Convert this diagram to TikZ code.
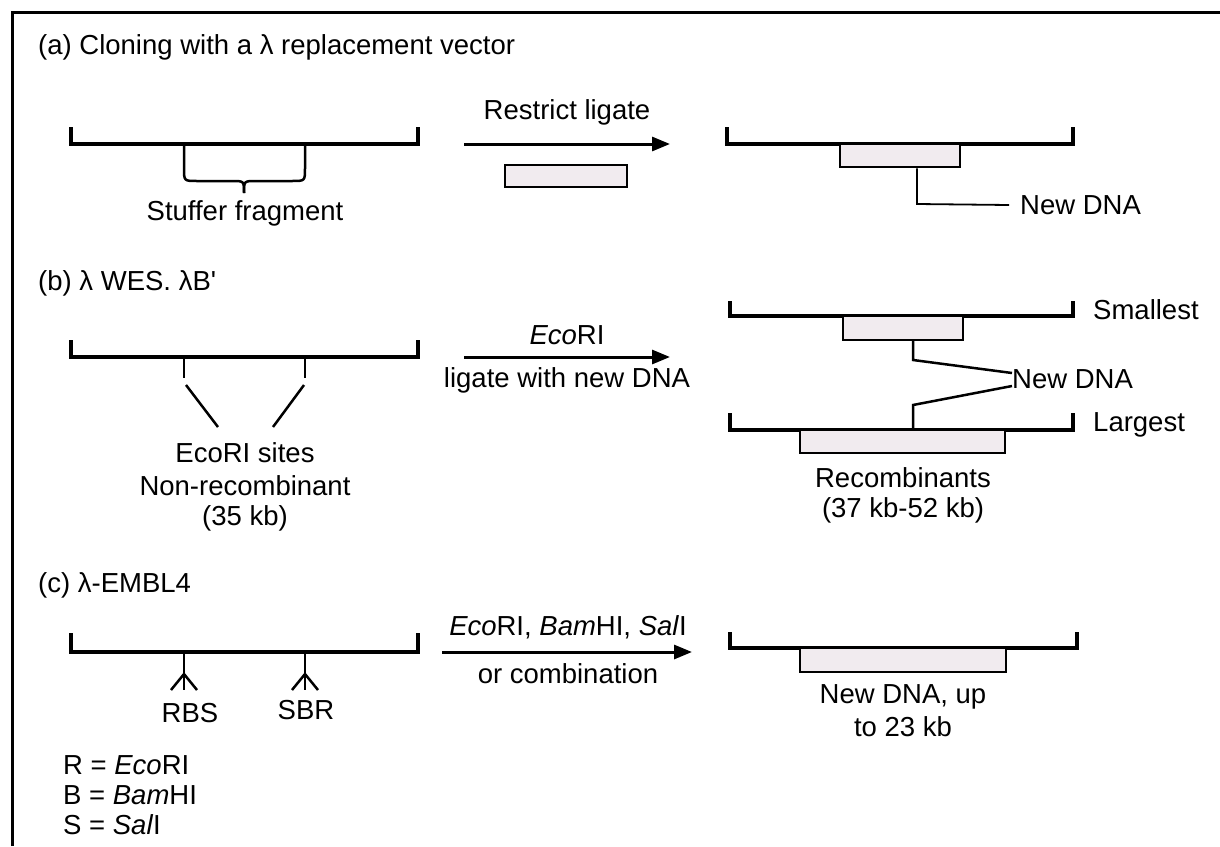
\documentclass[tikz,border=0pt]{standalone}
\usepackage{fontspec}
\setmainfont{Liberation Sans}
\usetikzlibrary{arrows.meta}
\definecolor{boxfill}{RGB}{241,235,239}
\begin{document}
\begin{tikzpicture}[x=1pt,y=-1pt,
  every node/.style={font=\fontsize{27.5}{32}\selectfont, inner sep=0pt},
  frame/.style={line width=3pt},
  dna/.style={line width=3.4pt, line join=miter},
  link/.style={line width=2.5pt},
  insert/.style={line width=2.8pt, fill=boxfill},
  flow/.style={line width=3pt, -{Triangle[length=18pt,width=14pt]}},
  lbl/.style={anchor=center},
  ttl/.style={anchor=west}]
\useasboundingbox (0,0) rectangle (1220,846);
\draw[frame] (12,846) -- (12,12) -- (1220,12);

% ---------- (a)
\node[ttl] (ta) at (38,47) {(a) Cloning with a λ replacement vector};
\draw[dna] (71,127) -- (71,144) -- (418,144) -- (418,127);
\draw[link] (184,144) -- (184,168) .. controls (184,181) .. (197,181) -- (232,181) .. controls (244,181) .. (244,193);
\draw[link] (305,144) -- (305,168) .. controls (305,181) .. (292,181) -- (256,181) .. controls (244,181) .. (244,193);
\node[lbl] (stuf) at (245,213) {Stuffer fragment};
\coordinate (aA1) at (464,144);
\coordinate (aA2) at (670,144);
\draw[flow] (aA1) -- (aA2);
\node[lbl] (rl) at (567,112) {Restrict ligate};
\node[insert, draw, minimum width=122pt, minimum height=22pt] (frag) at (566,176) {};
\draw[dna] (727,127) -- (727,144) -- (1073,144) -- (1073,127);
\node[insert, draw, minimum width=120pt, minimum height=23pt] (insA) at (900,155.5) {};
\node[anchor=west] (ndA) at (1020,205) {New DNA};
\draw[link, line width=1.8pt] (insA.south -| 917,0) -- (917,204) -- ([xshift=-11pt]ndA.west);

% ---------- (b)
\node[ttl] (tb) at (38,283) {(b) λ WES. λB\textquotesingle};
\draw[dna] (71,340) -- (71,357) -- (418,357) -- (418,340);
\draw[link] (184,357) -- (184,378);
\draw[link] (305,357) -- (305,378);
\draw[link] (186,385) -- (218,427);
\draw[link] (304,385) -- (273,427);
\node[lbl] (eco) at (245,453) {EcoRI sites};
\node[lbl] (nonr) at (245,486) {Non-recombinant};
\node[lbl] (k35) at (245,518) {(35 kb)};
\coordinate (aB1) at (464,357);
\coordinate (aB2) at (670,357);
\draw[flow] (aB1) -- (aB2);
\node[lbl] (ecoB) at (567,335) {\textit{Eco}RI};
\node[lbl] (lig) at (567,380) {ligate with new DNA};
\draw[dna] (730,301) -- (730,316) -- (1073,316) -- (1073,301);
\node[insert, draw, minimum width=120pt, minimum height=24pt] (insS) at (903,328) {};
\node[anchor=west] (small) at (1093,310) {Smallest};
\node[anchor=west] (ndB) at (1012,379) {New DNA};
\draw[link] (913,340) -- (913,360) -- (ndB.west |- 0,373);
\draw[link] (ndB.west |- 0,386) -- (913,405) -- (913,430);
\draw[dna] (730,413) -- (730,430) -- (1073,430) -- (1073,413);
\node[insert, draw, minimum width=205pt, minimum height=23pt] (insL) at (902.5,441.5) {};
\node[anchor=west] (large) at (1093,425) {Largest};
\node[lbl] (recb) at (903,478) {Recombinants};
\node[lbl] (k3752) at (903,510) {(37 kb-52 kb)};

% ---------- (c)
\node[ttl] (tc) at (38,585) {(c) λ-EMBL4};
\draw[dna] (71,633) -- (71,652) -- (418,652) -- (418,633);
\foreach \sx in {184,305} {
  \draw[link] (\sx,652) -- (\sx,690);
  \draw[link] (\sx-13,690) -- (\sx,674) -- (\sx+13,690);
}
\node[lbl] (rbs) at (190,713) {RBS};
\node[lbl] (sbr) at (306,710) {SBR};
\node[anchor=west] (lr) at (63,765) {R = \textit{Eco}RI};
\node[anchor=west] (lb) at (63,795) {B = \textit{Bam}HI};
\node[anchor=west] (ls) at (63,825) {S = \textit{Sal}I};
\coordinate (aC1) at (442,652);
\coordinate (aC2) at (692,652);
\draw[flow] (aC1) -- (aC2);
\node[lbl] (enz) at (568,627) {\textit{Eco}RI, \textit{Bam}HI, \textit{Sal}I};
\node[lbl] (orc) at (568,674) {or combination};
\draw[dna] (730,632) -- (730,648) -- (1077,648) -- (1077,632);
\node[insert, draw, minimum width=206pt, minimum height=24pt] (insC) at (903,660) {};
\node[lbl] (ndc1) at (903,697) {New DNA, up};
\node[lbl] (ndc2) at (903,727) {to 23 kb};
\end{tikzpicture}
\end{document}
